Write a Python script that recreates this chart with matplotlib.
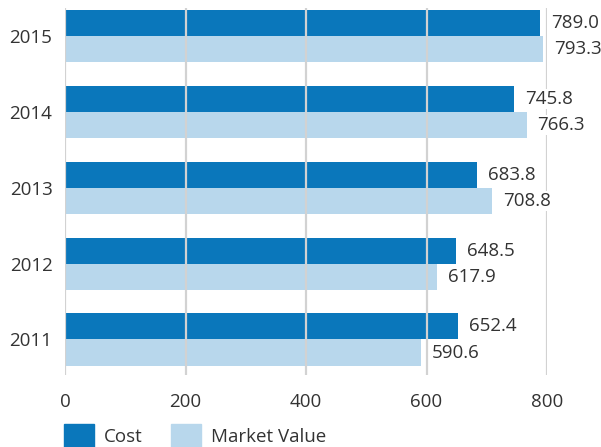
import numpy as np
import matplotlib.pyplot as plt
from matplotlib.patches import Patch

years = ["2011", "2012", "2013", "2014", "2015"]
cost = [652.4, 648.5, 683.8, 745.8, 789.0]
market_value = [590.6, 617.9, 708.8, 766.3, 793.3]
x_ticks = [0, 200, 400, 600, 800]

dark_blue = "#0a77bb"
light_blue = "#b8d7ec"
text_color = "#333333"
grid_color = "#d2d2d2"

plt.rcParams['font.family'] = ['Open Sans', 'DejaVu Sans']

fig = plt.figure(figsize=(6.01, 4.47), dpi=100)
ax = fig.add_axes([65 / 601, 72 / 447, 482 / 601, 367 / 447])

y = np.arange(len(years))
h = 0.343
ax.barh(y + h / 2, cost, height=h, color=dark_blue, zorder=1)
ax.barh(y - h / 2, market_value, height=h, color=light_blue, zorder=1)

for xt in x_ticks:
    ax.axvline(xt, color=grid_color, lw=1.6, zorder=2)

fs = 13.5
for yi, c, m in zip(y, cost, market_value):
    ax.text(c + 18, yi + h / 2, f"{c:.1f}", va="center", ha="left", fontsize=fs,
            color=text_color, zorder=3, clip_on=False,
            bbox=dict(facecolor="white", edgecolor="none", pad=0.5))
    ax.text(m + 18, yi - h / 2, f"{m:.1f}", va="center", ha="left", fontsize=fs,
            color=text_color, zorder=3, clip_on=False,
            bbox=dict(facecolor="white", edgecolor="none", pad=0.5))

ax.set_xlim(0, 800)
ax.set_ylim(-0.468, 4.369)
ax.set_yticks(y)
ax.set_yticklabels(years)
ax.set_xticks(x_ticks)
ax.tick_params(length=0, labelsize=fs, labelcolor=text_color)
ax.tick_params(axis="y", pad=9)
ax.tick_params(axis="x", pad=13)
for s in ax.spines.values():
    s.set_visible(False)

handles = [Patch(color=dark_blue), Patch(color=light_blue)]
fig.legend(handles, ["Cost", "Market Value"], loc="lower left",
           bbox_to_anchor=(47 / 601, -0.04), ncol=2, frameon=False,
           fontsize=fs, handlelength=1.6, handleheight=1.6, handletextpad=0.55,
           columnspacing=1.5, labelcolor=text_color)

fig.savefig("out.png", dpi=100)
